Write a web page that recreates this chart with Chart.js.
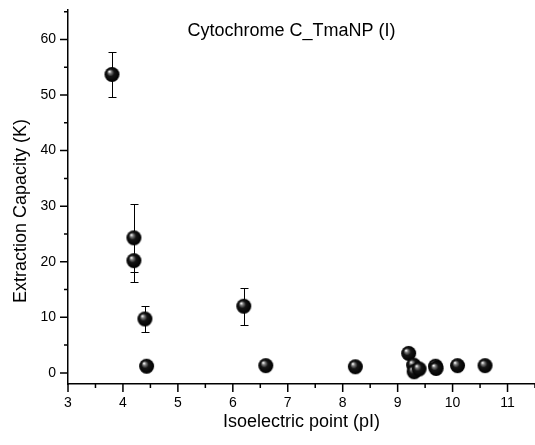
<!DOCTYPE html>
<html lang="en">
    <head>
        <meta charset="utf-8" />
        <script src="https://cdn.jsdelivr.net/npm/chart.js@4.4.1/dist/chart.umd.min.js"></script>
        <title>Cytochrome C_TmaNP (I)</title>
        <style>
            body { margin: 0; background: #fff; }
        </style>
    </head>
    <body>
        <canvas id="grafico" width="535" height="445"></canvas>
        <script>
            // values
            const pI       = [3.8, 4.2, 4.2, 4.4, 4.43, 6.2, 6.6, 8.23, 9.2, 9.29, 9.3, 9.39, 9.69, 9.7, 10.09, 10.59];
            const capacity = [53.7, 24.3, 20.2, 9.7, 1.2, 12.0, 1.3, 1.1, 3.5, 1.4, 0.2, 0.7, 1.2, 0.8, 1.3, 1.3];
            const errors   = [4.05, 6.1, 3.8, 2.4, 0, 3.3, 0, 0, 0, 0, 0, 0, 0, 0, 0, 0];
            const titulo = "Cytochrome C_TmaNP (I)";
            const tituloX = "Isoelectric point (pI)";
            const tituloY = "Extraction Capacity (K)";

            const fuente = "'Liberation Sans', Arial, sans-serif";

            // shaded sphere marker
            function esfera(r) {
                const c = document.createElement("canvas");
                c.width = c.height = r * 2 + 2;
                const g = c.getContext("2d");
                const cx = r + 1, cy = r + 1;
                const grad = g.createRadialGradient(cx - r * 0.35, cy - r * 0.4, 0.5, cx, cy, r);
                grad.addColorStop(0, "#f4f4f4");
                grad.addColorStop(0.16, "#808080");
                grad.addColorStop(0.45, "#151515");
                grad.addColorStop(1, "#000");
                g.fillStyle = grad;
                g.beginPath();
                g.arc(cx, cy, r, 0, Math.PI * 2);
                g.fill();
                return c;
            }
            const bola = esfera(7.5);

            const extras = {
                id: "extras",
                beforeDatasetsDraw(chart) {
                    const { ctx, scales: { x, y } } = chart;
                    ctx.save();
                    ctx.strokeStyle = "#000";
                    ctx.lineWidth = 1;
                    pI.forEach((v, i) => {
                        const e = errors[i];
                        if (!e) return;
                        const px = Math.round(x.getPixelForValue(v)) + 0.5;
                        const arriba = Math.round(y.getPixelForValue(capacity[i] + e)) + 0.5;
                        const abajo = Math.round(y.getPixelForValue(capacity[i] - e)) + 0.5;
                        ctx.beginPath();
                        ctx.moveTo(px, arriba); ctx.lineTo(px, abajo);
                        ctx.moveTo(px - 4, arriba); ctx.lineTo(px + 4, arriba);
                        ctx.moveTo(px - 4, abajo); ctx.lineTo(px + 4, abajo);
                        ctx.stroke();
                    });
                    ctx.restore();
                },
                afterDraw(chart) {
                    const { ctx, chartArea: a, scales: { x, y } } = chart;
                    ctx.save();
                    ctx.strokeStyle = "#000";
                    ctx.lineWidth = 1.5;
                    ctx.beginPath();
                    x.ticks.forEach(t => {
                        const px = x.getPixelForValue(t.value);
                        const largo = Number.isInteger(t.value) ? 8 : 4;
                        ctx.moveTo(px, a.bottom); ctx.lineTo(px, a.bottom + largo);
                    });
                    y.ticks.forEach(t => {
                        const py = y.getPixelForValue(t.value);
                        const largo = t.value % 10 === 0 ? 8 : 4;
                        ctx.moveTo(a.left, py); ctx.lineTo(a.left - largo, py);
                    });
                    ctx.stroke();

                    ctx.fillStyle = "#000";
                    ctx.textAlign = "center";
                    ctx.textBaseline = "middle";
                    ctx.font = "18px " + fuente;
                    ctx.fillText(titulo, (a.left + a.right) / 2 - 10, a.top + 21);
                    ctx.fillText(tituloX, (a.left + a.right) / 2, a.bottom + 38);
                    ctx.translate(a.left - 47, (a.top + a.bottom) / 2 + 14);
                    ctx.rotate(-Math.PI / 2);
                    ctx.fillText(tituloY, 0, 0);
                    ctx.restore();
                }
            };

            new Chart(document.querySelector("#grafico").getContext("2d"), {
                type: "scatter",
                data: {
                    datasets: [{
                        data: pI.map((v, i) => ({ x: v, y: capacity[i] })),
                        pointStyle: bola,
                        pointRadius: 7.5,
                        pointHoverRadius: 7.5,
                        clip: false
                    }]
                },
                options: {
                    responsive: false,
                    animation: false,
                    layout: { autoPadding: false, padding: { top: 10, right: 0, left: 0, bottom: 0 } },
                    plugins: {
                        legend: { display: false },
                        tooltip: { enabled: false }
                    },
                    scales: {
                        x: {
                            type: "linear",
                            min: 3,
                            max: 11.5,
                            afterFit: (s) => { s.height = 61; s.paddingLeft = 0; s.paddingRight = 0; },
                            border: { display: true, color: "#000", width: 1.5 },
                            grid: { display: true, drawOnChartArea: false, drawTicks: true, tickLength: 8, color: "rgba(0,0,0,0)" },
                            ticks: {
                                stepSize: 0.5,
                                autoSkip: false,
                                maxRotation: 0,
                                padding: 3,
                                color: "#000",
                                font: { family: fuente, size: 14 },
                                callback: (v) => Number.isInteger(v) ? v : ""
                            }
                        },
                        y: {
                            min: -2,
                            max: 65.3,
                            afterFit: (s) => { s.width = 68; s.paddingTop = 0; s.paddingBottom = 0; },
                            border: { display: true, color: "#000", width: 1.5 },
                            grid: { display: true, drawOnChartArea: false, drawTicks: true, tickLength: 8, color: "rgba(0,0,0,0)" },
                            ticks: {
                                stepSize: 5,
                                includeBounds: false,
                                autoSkip: false,
                                padding: 4,
                                color: "#000",
                                font: { family: fuente, size: 14 },
                                callback: (v) => v % 10 === 0 ? v : ""
                            }
                        }
                    }
                },
                plugins: [extras]
            });
        </script>
    </body>
</html>
